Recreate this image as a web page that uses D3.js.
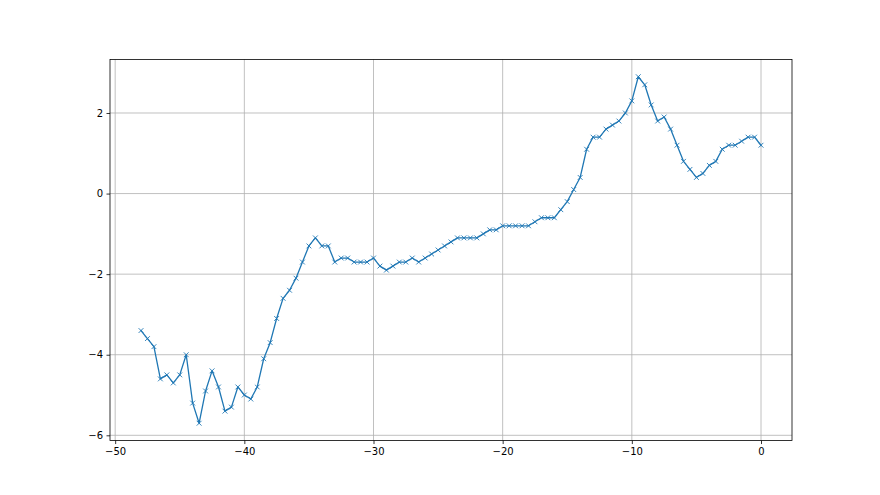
<!DOCTYPE html>
<html><head><meta charset="utf-8">
<script src="https://cdn.jsdelivr.net/npm/d3@7/dist/d3.min.js"></script>
<style>body{margin:0;background:#fff}svg{display:block}text{font-family:"DejaVu Sans",sans-serif}</style>
</head><body>
<svg id="c" width="880" height="495"></svg>
<script>
const xStart = -48, xStep = 0.5;
const values = [
-3.4,-3.6,-3.8,-4.6,-4.5,-4.7,-4.5,-4.0,-5.2,-5.7,
-4.9,-4.4,-4.8,-5.4,-5.3,-4.8,-5.0,-5.1,-4.8,-4.1,
-3.7,-3.1,-2.6,-2.4,-2.1,-1.7,-1.3,-1.1,-1.3,-1.3,
-1.7,-1.6,-1.6,-1.7,-1.7,-1.7,-1.6,-1.8,-1.9,-1.8,
-1.7,-1.7,-1.6,-1.7,-1.6,-1.5,-1.4,-1.3,-1.2,-1.1,
-1.1,-1.1,-1.1,-1.0,-0.9,-0.9,-0.8,-0.8,-0.8,-0.8,
-0.8,-0.7,-0.6,-0.6,-0.6,-0.4,-0.2,0.1,0.4,1.1,
1.4,1.4,1.6,1.7,1.8,2.0,2.3,2.9,2.7,2.2,
1.8,1.9,1.6,1.2,0.8,0.6,0.4,0.5,0.7,0.8,
1.1,1.2,1.2,1.3,1.4,1.4,1.2];
const xValues = values.map((v,i)=>xStart + i*xStep);
const xTicks = [-50,-40,-30,-20,-10,0];
const yTicks = [-6,-4,-2,0,2];

const svg = d3.select("#c");
const L=110, R=792, T=59.4, B=440.55;
const xmin=d3.min(xValues), xmax=d3.max(xValues), ymin=d3.min(values), ymax=d3.max(values);
const xm=(xmax-xmin)*0.05, ym=(ymax-ymin)*0.05;
const x = d3.scaleLinear().domain([xmin-xm, xmax+xm]).range([L,R]);
const y = d3.scaleLinear().domain([ymin-ym, ymax+ym]).range([B,T]);
const data = values.map((v,i)=>({x:xValues[i], y:v}));

// grid
const g = svg.append("g");
g.selectAll(".gx").data(xTicks).join("line")
 .attr("x1",d=>x(d)).attr("x2",d=>x(d)).attr("y1",T).attr("y2",B)
 .attr("stroke","#b0b0b0").attr("stroke-width",0.8);
g.selectAll(".gy").data(yTicks).join("line")
 .attr("y1",d=>y(d)).attr("y2",d=>y(d)).attr("x1",L).attr("x2",R)
 .attr("stroke","#b0b0b0").attr("stroke-width",0.8);

// line
const col="#1f77b4";
svg.append("path").datum(data)
 .attr("d", d3.line().x(d=>x(d.x)).y(d=>y(d.y)))
 .attr("fill","none").attr("stroke",col).attr("stroke-width",1.3).attr("stroke-linejoin","round").attr("stroke-linecap","square");
const s=2.4;
svg.append("g").selectAll("path").data(data).join("path")
 .attr("d", d=>{const cx=x(d.x), cy=y(d.y); return `M${cx-s},${cy-s}L${cx+s},${cy+s}M${cx-s},${cy+s}L${cx+s},${cy-s}`;})
 .attr("stroke",col).attr("stroke-width",0.9).attr("fill","none");

// axes
const fmt = d3.format("d");
const xa = svg.append("g").attr("transform",`translate(0,${B})`)
 .call(d3.axisBottom(x).tickValues(xTicks).tickFormat(fmt).tickSize(3.5).tickPadding(3.5));
const ya = svg.append("g").attr("transform",`translate(${L},0)`)
 .call(d3.axisLeft(y).tickValues(yTicks).tickFormat(fmt).tickSize(3.5).tickPadding(3.5));
[xa,ya].forEach(a=>{a.select(".domain").remove();
 a.selectAll("line").attr("stroke","#000").attr("stroke-width",0.8);
 a.selectAll("text").attr("font-size",10).attr("fill","#000").attr("font-family","DejaVu Sans");});
// frame
svg.append("rect").attr("x",L).attr("y",T).attr("width",R-L).attr("height",B-T)
 .attr("fill","none").attr("stroke","#000").attr("stroke-width",0.8);
</script>
</body></html>
